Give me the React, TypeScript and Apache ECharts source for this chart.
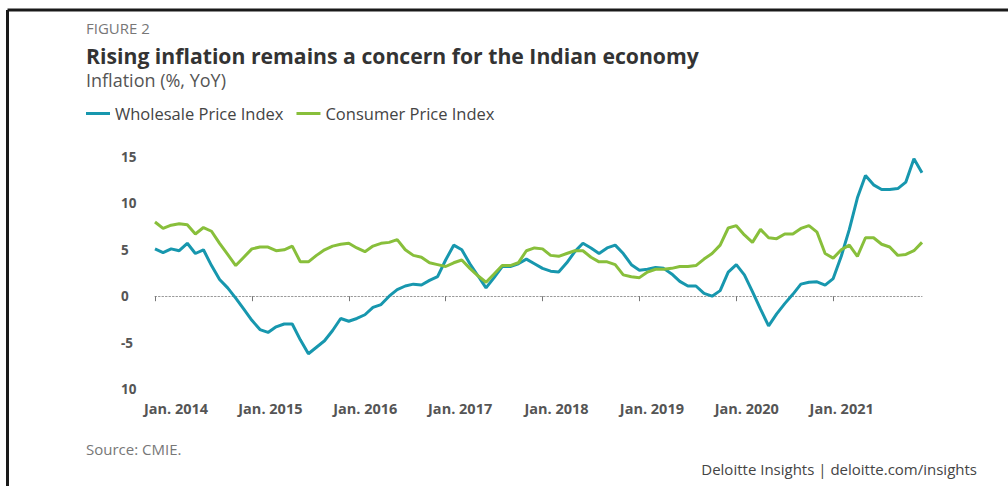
import React, { useEffect, useRef } from "react";
import * as echarts from "echarts";

const years = [2014, 2015, 2016, 2017, 2018, 2019, 2020, 2021];
const monthNames = ["01", "02", "03", "04", "05", "06", "07", "08", "09", "10", "11", "12"];
const months: string[] = years.flatMap((y) => monthNames.map((m) => `${y}-${m}`));

// Wholesale Price Index, YoY %
const wpi = [
  5.1, 4.7, 5.1, 4.9, 5.7, 4.6, 5.0, 3.3, 1.8, 0.9, -0.2, -1.4,
  -2.6, -3.6, -3.9, -3.3, -3.0, -3.0, -4.7, -6.2, -5.5, -4.8, -3.7, -2.4,
  -2.7, -2.4, -2.0, -1.2, -0.9, 0.0, 0.7, 1.1, 1.3, 1.2, 1.7, 2.1,
  3.9, 5.5, 5.0, 3.5, 2.2, 0.9, 2.0, 3.2, 3.2, 3.5, 4.0, 3.5,
  3.0, 2.7, 2.6, 3.6, 4.8, 5.7, 5.2, 4.6, 5.2, 5.5, 4.6, 3.4,
  2.8, 2.9, 3.1, 3.0, 2.4, 1.6, 1.1, 1.1, 0.3, 0.0, 0.6, 2.6,
  3.4, 2.3, 0.5, -1.4, -3.2, -1.9, -0.8, 0.2, 1.3, 1.5, 1.55, 1.2,
  1.9, 4.3, 7.2, 10.6, 13.0, 12.0, 11.5, 11.5, 11.6, 12.3, 14.8, 13.3,
];

// Consumer Price Index, YoY %
const cpi = [
  8.0, 7.3, 7.65, 7.8, 7.7, 6.7, 7.4, 7.0, 5.7, 4.5, 3.3, 4.2,
  5.1, 5.3, 5.3, 4.9, 5.0, 5.4, 3.7, 3.7, 4.4, 5.0, 5.4, 5.6,
  5.7, 5.2, 4.8, 5.4, 5.7, 5.8, 6.1, 5.0, 4.4, 4.2, 3.6, 3.4,
  3.2, 3.6, 3.9, 3.0, 2.2, 1.5, 2.4, 3.3, 3.3, 3.6, 4.9, 5.2,
  5.1, 4.4, 4.3, 4.6, 4.9, 4.9, 4.2, 3.7, 3.7, 3.4, 2.3, 2.1,
  2.0, 2.6, 2.9, 2.9, 3.0, 3.2, 3.2, 3.3, 4.0, 4.6, 5.5, 7.35,
  7.6, 6.6, 5.8, 7.2, 6.3, 6.2, 6.7, 6.7, 7.3, 7.6, 6.9, 4.6,
  4.1, 5.0, 5.5, 4.3, 6.3, 6.3, 5.6, 5.3, 4.4, 4.5, 4.9, 5.8,
];

const yTickLabels: Record<string, string> = {
  "15": "15",
  "10": "10",
  "5": "5",
  "0": "0",
  "-5": "-5",
  "-10": "10",
};

const seriesNames = ["Wholesale Price Index", "Consumer Price Index"];
const FONT = "Open Sans";

// left padding of each year label (label sits right of its tick, as in the source)
const labelShift = [42, 37, 33, 29, 28, 25, 21, 17];

export default function App() {
  const ref = useRef<HTMLDivElement>(null);

  useEffect(() => {
    if (!ref.current) return;
    const chart = echarts.init(ref.current, undefined, { renderer: "svg" });
    const isJan = (i: number) => i % 12 === 0;
    const rich: Record<string, any> = {};
    labelShift.forEach((p, k) => {
      rich["y" + k] = {
        fontSize: 14.5,
        fontWeight: "bold",
        color: "#555",
        fontFamily: FONT,
        padding: [0, 0, 0, p],
      };
    });
    chart.setOption({
      animation: false,
      backgroundColor: "#ffffff",
      textStyle: { fontFamily: FONT },
      title: [
        {
          text: "FIGURE 2",
          left: 86,
          top: 20,
          padding: 0,
          textStyle: { fontSize: 15, fontWeight: "normal", color: "#777", fontFamily: FONT },
        },
        {
          text: "Rising inflation remains a concern for the Indian economy",
          left: 86,
          top: 45,
          padding: 0,
          textStyle: { fontSize: 21.2, fontWeight: "bold", color: "#333", fontFamily: FONT },
        },
        {
          text: "Inflation (%, YoY)",
          left: 86,
          top: 71,
          padding: 0,
          textStyle: { fontSize: 18, fontWeight: "normal", color: "#555", fontFamily: FONT },
        },
        {
          text: "Source: CMIE.",
          left: 86,
          top: 441,
          padding: 0,
          textStyle: { fontSize: 15, fontWeight: "normal", color: "#777", fontFamily: FONT },
        },
        {
          text: "Deloitte Insights | deloitte.com/insights",
          right: 31,
          top: 461,
          padding: 0,
          textStyle: { fontSize: 15, fontWeight: "normal", color: "#444", fontFamily: FONT },
        },
      ],
      legend: {
        left: 86,
        top: 105,
        padding: 0,
        icon: "rect",
        itemWidth: 24,
        itemHeight: 3,
        itemGap: 13,
        data: seriesNames,
        textStyle: { fontSize: 16.5, color: "#444", fontFamily: FONT },
      },
      graphic: [
        {
          type: "line",
          shape: { x1: 7.5, y1: 10, x2: 1008, y2: 10 },
          style: { stroke: "#1a1a1a", lineWidth: 3 },
        },
        {
          type: "line",
          shape: { x1: 7.5, y1: 10, x2: 7.5, y2: 486 },
          style: { stroke: "#1a1a1a", lineWidth: 3 },
        },
      ],
      grid: {
        left: 155,
        right: 86,
        top: 157,
        height: 232,
        containLabel: false,
        outerBoundsMode: "none",
      },
      xAxis: [
        {
          type: "category",
          data: months,
          boundaryGap: false,
          axisLine: {
            onZero: true,
            lineStyle: { color: "#999", width: 1, type: [1.5, 2] },
          },
          axisTick: {
            show: true,
            interval: isJan,
            length: 5,
            lineStyle: { color: "#777", width: 1 },
          },
          axisLabel: { show: false },
          splitLine: { show: false },
        },
        {
          type: "category",
          data: months,
          boundaryGap: false,
          position: "bottom",
          axisLine: { show: false, onZero: false },
          axisTick: { show: false },
          splitLine: { show: false },
          axisLabel: {
            interval: isJan,
            margin: 12,
            formatter: (v: string) => {
              const k = years.indexOf(Number(v.slice(0, 4)));
              return `{y${k}|Jan. ${v.slice(0, 4)}}`;
            },
            rich,
          },
        },
      ],
      yAxis: {
        type: "value",
        min: -10,
        max: 15,
        interval: 5,
        axisLine: { show: false },
        axisTick: { show: false },
        splitLine: { show: false },
        axisLabel: {
          align: "left",
          margin: 34,
          fontSize: 13.5,
          fontWeight: "bold",
          color: "#555",
          fontFamily: FONT,
          formatter: (v: number) => yTickLabels[String(v)] ?? String(v),
        },
      },
      series: [
        {
          name: seriesNames[0],
          type: "line",
          xAxisIndex: 0,
          data: wpi,
          showSymbol: false,
          symbol: "none",
          lineStyle: { width: 3, color: "#1797ae" },
          itemStyle: { color: "#1797ae" },
        },
        {
          name: seriesNames[1],
          type: "line",
          xAxisIndex: 0,
          data: cpi,
          showSymbol: false,
          symbol: "none",
          lineStyle: { width: 3, color: "#88bf3b" },
          itemStyle: { color: "#88bf3b" },
        },
      ],
    });
    return () => chart.dispose();
  }, []);

  return (
    <div
      ref={ref}
      style={{ position: "fixed", left: 0, top: 0, width: 1008, height: 486 }}
    />
  );
}
